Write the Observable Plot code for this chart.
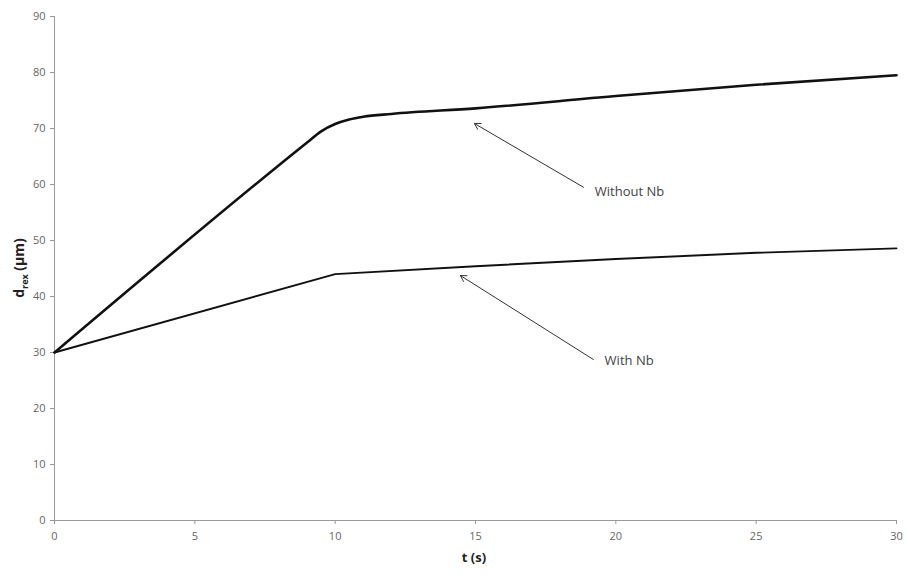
<!DOCTYPE html>
<html>
<head>
<meta charset="utf-8">
<script src="https://cdn.jsdelivr.net/npm/d3@7"></script>
<script src="https://cdn.jsdelivr.net/npm/@observablehq/plot@0.6"></script>
<style>
  html, body { margin: 0; padding: 0; background: #fff; }
  #chart { width: 909px; height: 580px; }
</style>
</head>
<body>
<div id="chart"></div>
<script>
// Data
const tWithout = [0, 9, 9.5, 10, 10.5, 11, 12, 15, 20, 25, 30];
const dWithout = [30, 67.5, 69.5, 70.8, 71.6, 72.1, 72.6, 73.6, 75.8, 77.8, 79.5];
const tWith = [0, 10, 15, 20, 25, 30];
const dWith = [30, 44, 45.4, 46.7, 47.8, 48.6];
const xTicks = [0, 5, 10, 15, 20, 25, 30];
const yTicks = [0, 10, 20, 30, 40, 50, 60, 70, 80, 90];
const labels = ["Without Nb", "With Nb"];
const labelT = [19.25, 19.6];
const labelD = [58.7, 28.6];
const arrowT1 = [18.85, 19.2];
const arrowD1 = [59.5, 28.75];
const arrowT2 = [14.96, 14.46];
const arrowD2 = [70.9, 43.75];

const without = tWithout.map((t, i) => ({t, d: dWithout[i]}));
const withNb = tWith.map((t, i) => ({t, d: dWith[i]}));
const notes = labels.map((name, i) => ({
  name, lt: labelT[i], ld: labelD[i],
  x1: arrowT1[i], y1: arrowD1[i], x2: arrowT2[i], y2: arrowD2[i]
}));

const font = "'Open Sans', 'Liberation Sans', sans-serif";

const plot = Plot.plot({
  width: 909,
  height: 580,
  marginLeft: 54,
  marginRight: 13,
  marginTop: 16,
  marginBottom: 60,
  style: { fontFamily: font, fontSize: "11px", background: "#fff" },
  x: { domain: [0, 30], ticks: xTicks, label: null },
  y: { domain: [0, 90], ticks: yTicks, label: null },
  marks: [
    Plot.ruleX([0], { stroke: "#999", strokeWidth: 1 }),
    Plot.ruleY([0], { stroke: "#999", strokeWidth: 1 }),
    Plot.axisX({ ticks: xTicks, tickSize: 4, stroke: "#999", fill: "#666", tickPadding: 8, label: null }),
    Plot.axisY({ ticks: yTicks, tickSize: 4, stroke: "#999", fill: "#666", tickPadding: 5, label: null }),
    Plot.line(without, { x: "t", y: "d", stroke: "#111", strokeWidth: 2.6, curve: "monotone-x" }),
    Plot.line(withNb, { x: "t", y: "d", stroke: "#111", strokeWidth: 1.9, curve: "linear" }),
    Plot.arrow(notes, { x1: "x1", y1: "y1", x2: "x2", y2: "y2", stroke: "#333", strokeWidth: 1, headLength: 10 }),
    Plot.text(notes, { x: "lt", y: "ld", text: "name", textAnchor: "start", fill: "#444", fontSize: 13 })
  ]
});

const svg = d3.select(plot);
// x axis label
svg.append("text")
  .attr("x", 474).attr("y", 562)
  .attr("text-anchor", "middle")
  .attr("font-family", font).attr("font-size", 13).attr("font-weight", "bold")
  .attr("fill", "#222")
  .text("t (s)");
// y axis label with subscript
const yl = svg.append("text")
  .attr("transform", "translate(24,268) rotate(-90)")
  .attr("text-anchor", "middle")
  .attr("font-family", font).attr("font-size", 14).attr("font-weight", "bold")
  .attr("fill", "#222");
yl.append("tspan").text("d");
yl.append("tspan").attr("font-size", 9).attr("dy", 4).text("rex");
yl.append("tspan").attr("dy", -4).text(" (µm)");

document.getElementById("chart").appendChild(plot);
</script>
</body>
</html>
